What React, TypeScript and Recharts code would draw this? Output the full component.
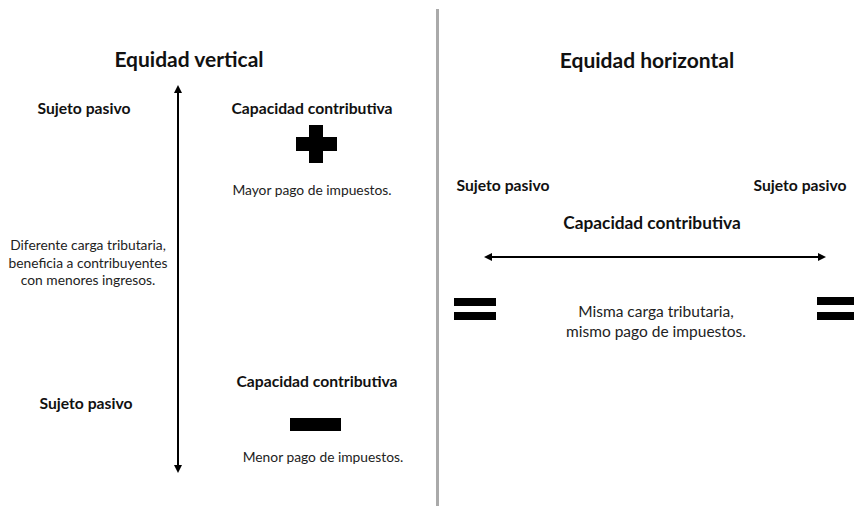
import { ReferenceArea, ReferenceLine, Scatter, ScatterChart, XAxis, YAxis } from "recharts";

// ── Diagram data (coordinates in a 854 x 507 space, y grows downwards) ─────

const titles = [
  { x: 189, y: 58, text: "Equidad vertical" },
  { x: 647, y: 59, text: "Equidad horizontal" },
];

const headings = [
  { x: 84, y: 108, text: "Sujeto pasivo" },
  { x: 312, y: 108, text: "Capacidad contributiva" },
  { x: 86, y: 403, text: "Sujeto pasivo" },
  { x: 317, y: 381, text: "Capacidad contributiva" },
  { x: 503, y: 185, text: "Sujeto pasivo" },
  { x: 800, y: 185, text: "Sujeto pasivo" },
];

const centerHeading = [{ x: 652, y: 222, text: "Capacidad contributiva" }];

const notesLeft = [
  { x: 312, y: 189, text: "Mayor pago de impuestos." },
  { x: 88, y: 244, text: "Diferente carga tributaria," },
  { x: 88, y: 262, text: "beneficia a contribuyentes" },
  { x: 88, y: 279, text: "con menores ingresos." },
  { x: 323, y: 456, text: "Menor pago de impuestos." },
];

const notesRight = [
  { x: 656, y: 311, text: "Misma carga tributaria," },
  { x: 656, y: 331, text: "mismo pago de impuestos." },
];

// arrow tips
const arrowTips = [
  { x: 178, y: 85, dir: "up" },
  { x: 178, y: 473, dir: "down" },
  { x: 484, y: 257, dir: "left" },
  { x: 826, y: 257, dir: "right" },
];

// shafts between tips
const shafts = [
  [{ x: 178, y: 88 }, { x: 178, y: 470 }],
  [{ x: 487, y: 257 }, { x: 823, y: 257 }],
];

// solid blocks: plus, minus and the two equals signs
const blocks = [
  { x1: 296, x2: 337, y1: 137, y2: 151 },
  { x1: 309, x2: 323, y1: 125, y2: 163 },
  { x1: 290, x2: 341, y1: 418, y2: 431 },
  { x1: 454, x2: 496, y1: 298, y2: 306 },
  { x1: 454, x2: 496, y1: 312, y2: 320 },
  { x1: 817, x2: 854, y1: 297, y2: 305 },
  { x1: 817, x2: 854, y1: 312, y2: 320 },
];

const divider = [{ x: 437.5, y: 9 }, { x: 437.5, y: 506 }];

const FONT = "Lato, 'Open Sans', sans-serif";

function textShape(size: number, weight: number, color: string) {
  return (props: any) => (
    <text
      x={props.cx}
      y={props.cy}
      textAnchor="middle"
      dominantBaseline="central"
      fontFamily={FONT}
      fontSize={size}
      fontWeight={weight}
      fill={color}
    >
      {props.payload.text}
    </text>
  );
}

function ArrowHead(props: any) {
  const { cx, cy, payload } = props;
  const l = 8, w = 4;
  let pts = "";
  if (payload.dir === "up") pts = `${cx},${cy} ${cx - w},${cy + l} ${cx + w},${cy + l}`;
  if (payload.dir === "down") pts = `${cx},${cy} ${cx - w},${cy - l} ${cx + w},${cy - l}`;
  if (payload.dir === "left") pts = `${cx},${cy} ${cx + l},${cy - w} ${cx + l},${cy + w}`;
  if (payload.dir === "right") pts = `${cx},${cy} ${cx - l},${cy - w} ${cx - l},${cy + w}`;
  return <polygon points={pts} fill="#000" />;
}

export default function App() {
  return (
    <div style={{ position: "fixed", left: 0, top: 0, background: "#fff" }}>
      <ScatterChart width={854} height={507} margin={{ top: 0, right: 0, bottom: 0, left: 0 }}>
        <XAxis type="number" dataKey="x" domain={[0, 854]} hide />
        <YAxis type="number" dataKey="y" domain={[0, 507]} reversed hide />
        <ReferenceLine segment={divider} stroke="#aaaaaa" strokeWidth={3} />
        {shafts.map((s, i) => (
          <ReferenceLine key={i} segment={s} stroke="#000" strokeWidth={2} />
        ))}
        {blocks.map((b, i) => (
          <ReferenceArea key={i} x1={b.x1} x2={b.x2} y1={b.y1} y2={b.y2} fill="#000" fillOpacity={1} stroke="none" />
        ))}
        <Scatter data={arrowTips} shape={ArrowHead} isAnimationActive={false} />
        <Scatter data={titles} shape={textShape(21, 700, "#111")} isAnimationActive={false} />
        <Scatter data={headings} shape={textShape(15.7, 700, "#111")} isAnimationActive={false} />
        <Scatter data={centerHeading} shape={textShape(17.3, 700, "#111")} isAnimationActive={false} />
        <Scatter data={notesLeft} shape={textShape(13.8, 400, "#222")} isAnimationActive={false} />
        <Scatter data={notesRight} shape={textShape(15.5, 400, "#222")} isAnimationActive={false} />
      </ScatterChart>
    </div>
  );
}
